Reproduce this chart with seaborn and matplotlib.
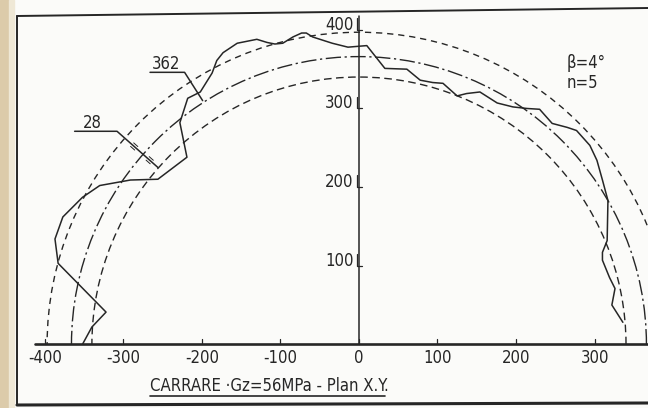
import numpy as np
import pandas as pd
import matplotlib
matplotlib.use("Agg")
import matplotlib.pyplot as plt
import seaborn as sns
from matplotlib.patches import Arc, Rectangle
from matplotlib.lines import Line2D

prof_x = [-352, -340, -322, -383, -387, -377, -352, -330, -291, -256, -219, -228,
          -218, -202, -187, -181, -173, -155, -130, -117, -107, -97, -84, -73,
          -67, -59, -34, -14, 10, 33, 61, 78, 94, 107, 125, 137, 154, 176, 196,
          214, 230, 246, 265, 277, 294, 303, 310, 317, 316, 310, 310, 319, 326,
          322, 336]
prof_y = [0, 22, 41, 103, 134, 162, 187, 202, 209, 210, 238, 282,
          313, 321, 345, 361, 371, 383, 388, 384, 382, 383, 391, 396,
          396, 391, 383, 378, 380, 351, 350, 336, 333, 332, 316, 319, 321, 307, 302,
          300, 299, 281, 276, 272, 253, 234, 209, 183, 132, 117, 107, 85, 71,
          50, 28]

# reference circles: inner, mean, outer
radii = [340, 366, 397]
circle_dashes = [(5.5, 3.2), (11, 2.6, 1.6, 2.6), (4.5, 3.5)]

x_ticks = [-400, -300, -200, -100, 0, 100, 200, 300]
x_labels = ["-400", "-300", "-200", "-100", "0", "100", "200", "300"]
y_ticks = [100, 200, 300, 400]
y_labels = ["100", "200", "300", "400"]

title = "CARRARE ·Gz=56MPa - Plan X.Y."
notes = ["β=4°", "n=5"]

sns.set_style("white")
plt.rcParams["font.family"] = ["DejaVu Sans"]
plt.rcParams["font.stretch"] = "condensed"

ink = "#262626"
fs = 12
fig = plt.figure(figsize=(6.48, 4.08), dpi=100, facecolor="#fbfbf9")
ax = fig.add_axes([0, 0, 1, 1])

# paper edge and drawing frame
fig.patches.append(Rectangle((0, 0), 9 / 648, 1, transform=fig.transFigure,
                             color="#dccbaa", zorder=0))
fig.patches.append(Rectangle((9 / 648, 0), 5 / 648, 1, transform=fig.transFigure,
                             color="#efe8d6", zorder=0))


def px(x, y):
    return x / 648, 1 - y / 408


for (a, b), lw in [((px(17, 16), px(648, 8)), 1.4),
                   ((px(17, 16), px(17, 405)), 1.4),
                   ((px(17, 405), px(648, 403)), 2.2)]:
    fig.add_artist(Line2D([a[0], b[0]], [a[1], b[1]], color=ink, lw=lw,
                          transform=fig.transFigure))

# circles
for r, d in zip(radii, circle_dashes):
    ax.add_patch(Arc((0, 0), 2 * r, 2 * r, theta1=0, theta2=180, color=ink,
                     lw=1.0, linestyle=(0, d)))

# measured profile
df = pd.DataFrame({"x": prof_x, "y": prof_y})
sns.lineplot(data=df, x="x", y="y", sort=False, estimator=None, color=ink,
             lw=1.1, ax=ax)
ax.set_xlim(-457, 368)
ax.set_ylim(-81, 438)
ax.set_axis_off()
ax.patch.set_alpha(0)

# axes
ax.plot([-412, 370], [0, 0], color=ink, lw=1.9, clip_on=False)
ax.plot([0, 0], [0, 418], color=ink, lw=1.1)
for t, lab in zip(x_ticks, x_labels):
    ax.plot([t, t], [0, 7], color=ink, lw=0.9)
    ax.text(t, -6, lab, ha="center", va="top", fontsize=fs, color=ink)
for t, lab in zip(y_ticks, y_labels):
    ax.plot([-3, -3, 4], [t + 15, t, t], color=ink, lw=0.9)
    ax.text(-7, t, lab, ha="right", va="baseline", fontsize=fs, color=ink)

# leaders
ax.text(-264, 350, "362", fontsize=fs, color=ink)
ax.plot([-266, -222, -199], [346, 346, 310], color=ink, lw=1.1)
ax.text(-352, 275, "28", fontsize=fs, color=ink)
lx = np.array([-308, -256])
ly = np.array([271, 225])
ax.plot([-362, -308, -256], [271, 271, 225], color=ink, lw=1.1)
ux, uy = (lx[1] - lx[0]), (ly[1] - ly[0])
n = np.hypot(ux, uy)
ux, uy = ux / n, uy / n
for t in [0.42, 0.8]:
    cx, cy = lx[0] + t * (lx[1] - lx[0]), ly[0] + t * (ly[1] - ly[0])
    for s in [-3, 3]:
        ox, oy = cx - uy * s, cy + ux * s
        ax.plot([ox - ux * 3.5, ox + ux * 3.5], [oy - uy * 3.5, oy + uy * 3.5],
                color=ink, lw=0.7)

ax.text(265, 352, notes[0], fontsize=fs, color=ink)
ax.text(265, 326, notes[1], fontsize=fs, color=ink)

ax.text(-266, -59, title, fontsize=fs, color=ink)
ax.plot([-266, 33], [-66, -66], color=ink, lw=1.2)

fig.savefig("out.png", dpi=100, facecolor=fig.get_facecolor())
